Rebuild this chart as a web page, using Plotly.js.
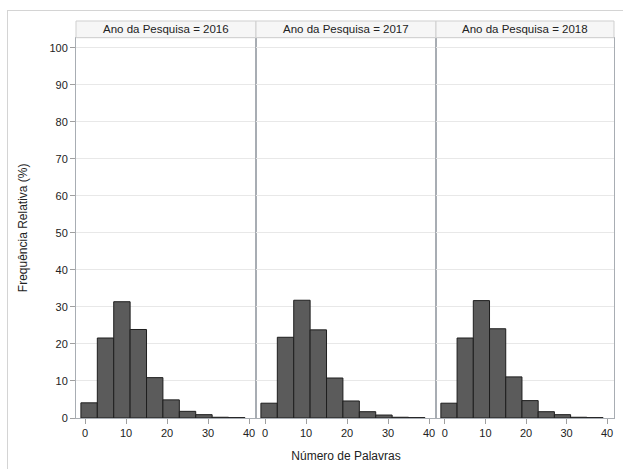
<!DOCTYPE html>
<html>
<head>
<meta charset="utf-8">
<script src="https://cdn.plot.ly/plotly-3.0.1.min.js"></script>
<style>
  html, body { margin: 0; padding: 0; background: #fff; }
  #wrap { position: relative; width: 623px; height: 469px; overflow: hidden; }
  #frame { position: absolute; left: 7px; top: 10px; width: 700px; height: 500px;
           border-left: 1px solid #d4d4d4; border-top: 1px solid #d4d4d4; pointer-events: none; }
  #chart { position: absolute; left: 0; top: 0; width: 623px; height: 469px; }
</style>
</head>
<body>
<div id="wrap">
  <div id="chart"></div>
  <div id="frame"></div>
</div>
<script>
// Data
const years = ["2016", "2017", "2018"];
const binCenters = [1, 5, 9, 13, 17, 21, 25, 29, 33, 37];
const freq2016 = [4.1, 21.6, 31.4, 23.9, 10.9, 4.9, 1.8, 0.9, 0.2, 0.1];
const freq2017 = [4.0, 21.8, 31.8, 23.8, 10.8, 4.6, 1.7, 0.8, 0.2, 0.1];
const freq2018 = [4.0, 21.6, 31.7, 24.1, 11.1, 4.7, 1.7, 0.9, 0.2, 0.1];
const xTicks = [0, 10, 20, 30, 40];
const yTicks = [0, 10, 20, 30, 40, 50, 60, 70, 80, 90, 100];
const headerPrefix = "Ano da Pesquisa = ";
const xTitle = "Número de Palavras";
const yTitle = "Frequência Relativa (%)";

const series = [freq2016, freq2017, freq2018];
const W = 623, H = 469;
const panelPx = [[76, 256], [256, 436], [436, 614]];
const yTopPx = 37.7, yBotPx = 418;
const headerPx = 16.7;
const font = "Liberation Sans, Arial, sans-serif";

const traces = series.map((vals, i) => ({
  type: "bar",
  x: binCenters,
  y: vals,
  width: 4,
  xaxis: i === 0 ? "x" : "x" + (i + 1),
  yaxis: i === 0 ? "y" : "y" + (i + 1),
  marker: { color: "#5b5b5b", line: { color: "#1e1e1e", width: 1 } },
  hoverinfo: "skip",
  showlegend: false
}));

const layout = {
  width: W, height: H,
  margin: { l: 0, r: 0, t: 0, b: 0 },
  paper_bgcolor: "rgba(0,0,0,0)",
  plot_bgcolor: "#ffffff",
  bargap: 0,
  font: { family: font, size: 11, color: "#222" },
  shapes: [],
  annotations: []
};

const yDom = [(H - yBotPx) / H, (H - yTopPx) / H];
const headerFrac = headerPx / (yBotPx - yTopPx);

series.forEach((_, i) => {
  const xk = i === 0 ? "xaxis" : "xaxis" + (i + 1);
  const yk = i === 0 ? "yaxis" : "yaxis" + (i + 1);
  const xr = i === 0 ? "x" : "x" + (i + 1);
  const yr = i === 0 ? "y" : "y" + (i + 1);
  layout[xk] = {
    domain: [panelPx[i][0] / W, panelPx[i][1] / W],
    range: [-2.2, 41.7],
    tickvals: xTicks,
    ticktext: xTicks.map(String),
    ticks: "outside", ticklen: 5, tickcolor: "#a0a0a0", tickwidth: 1,
    showgrid: false, zeroline: false,
    showline: true, linecolor: "#a8adb3", linewidth: 1, mirror: true,
    tickfont: { family: font, size: 11, color: "#222" },
    anchor: yr, fixedrange: true
  };
  layout[yk] = {
    domain: yDom,
    range: [0, 102.7],
    tickvals: yTicks,
    ticktext: yTicks.map(String),
    showticklabels: i === 0,
    ticks: i === 0 ? "outside" : "",
    ticklen: 5, tickcolor: "#a0a0a0", tickwidth: 1,
    showgrid: true, gridcolor: "#e8e8e8", gridwidth: 1,
    zeroline: false,
    showline: true, linecolor: "#a8adb3", linewidth: 1, mirror: true,
    tickfont: { family: font, size: 11, color: "#222" },
    anchor: xr, fixedrange: true
  };
  layout.shapes.push({
    type: "rect", xref: xr + " domain", yref: yr + " domain",
    x0: 0, x1: 1, y0: 1, y1: 1 + headerFrac,
    fillcolor: "#f6f6f6", line: { color: "#cfcfcf", width: 1 }, layer: "above"
  });
  layout.annotations.push({
    xref: xr + " domain", yref: yr + " domain",
    x: 0.5, y: 1 + headerFrac / 2, xanchor: "center", yanchor: "middle",
    text: headerPrefix + years[i], showarrow: false,
    font: { family: font, size: 11.5, color: "#222" }
  });
});

layout.xaxis2.title = { text: xTitle, font: { family: font, size: 12, color: "#222" }, standoff: 13 };
layout.yaxis.title = { text: yTitle, font: { family: font, size: 12, color: "#222" }, standoff: 19 };

Plotly.newPlot("chart", traces, layout, { displayModeBar: false, staticPlot: true });
</script>
</body>
</html>
